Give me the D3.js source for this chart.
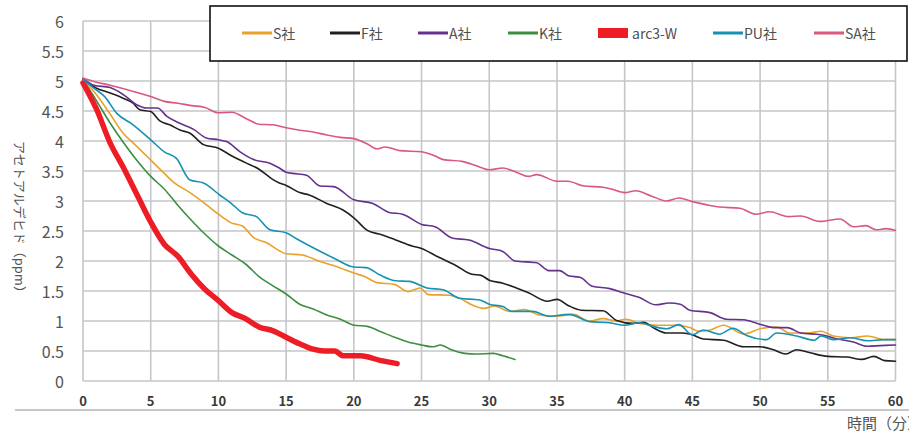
<!DOCTYPE html>
<html lang="ja">
<head>
<meta charset="UTF-8">
<title>アセトアルデヒド濃度の推移</title>
<script src="https://d3js.org/d3.v7.min.js"></script>
<style>
    body { margin: 0; background: #fff; }
    svg { display: block; font-family: "Noto Sans CJK JP", "Noto Sans", sans-serif; }
    .grid line { stroke: #c6c6ca; stroke-width: 1.6; }
    .tick-y { fill: #555; font-size: 16px; }
    .tick-x { fill: #3a3a3a; font-size: 13px; font-weight: 600; }
    .legend-text { fill: #505050; font-size: 14px; }
    .series { fill: none; stroke-linejoin: round; stroke-linecap: round; }
</style>
</head>
<body>
<svg id="chart" width="909" height="434"></svg>
<script>
// series names, legend order
const seriesNames = ['S社', 'F社', 'A社', 'K社', 'arc3-W', 'PU社', 'SA社'];
const seriesColors = ['#eaa12a', '#231f20', '#64318c', '#3a8f40', '#ee1c25', '#1591b3', '#d9597d'];

// [minutes, ppm]
const sData = [[0,5.03],[1,4.77],[2,4.45],[3,4.12],[3.7,3.97],[4.7,3.75],[6,3.46],[6.7,3.31],[7.9,3.14],[9.1,2.94],[10,2.78],[10.9,2.64],[11.8,2.58],[12.6,2.39],[13.6,2.3],[14.5,2.17],[15,2.12],[16.2,2.1],[17.5,1.99],[18.7,1.91],[20,1.8],[20.8,1.74],[21.7,1.64],[23,1.61],[24,1.49],[24.9,1.55],[25.5,1.44],[27,1.43],[27.9,1.37],[28.7,1.27],[29.6,1.21],[30.4,1.25],[31.5,1.16],[32.6,1.19],[33.7,1.1],[35,1.08],[36.2,1.11],[37.4,1.0],[38.4,1.04],[39.4,1.0],[40.1,1.03],[41.1,0.96],[42.4,0.93],[43.8,0.93],[44.8,0.89],[45.5,0.83],[46.3,0.85],[47.3,0.93],[48.8,0.78],[50,0.87],[51.2,0.9],[52.2,0.8],[53.5,0.8],[54.5,0.83],[55.4,0.75],[56.7,0.72],[57.9,0.75],[59.2,0.69],[60,0.69]];
const fData = [[0,5.03],[1,4.88],[2,4.8],[3,4.71],[3.7,4.63],[4.2,4.52],[5,4.49],[5.7,4.33],[6.4,4.27],[7.2,4.18],[7.9,4.13],[8.9,3.94],[10,3.88],[11,3.75],[12,3.64],[13,3.53],[14,3.36],[14.5,3.3],[15,3.26],[16,3.14],[16.7,3.1],[18,2.96],[19.2,2.85],[20,2.72],[21,2.51],[22,2.44],[23,2.36],[24.3,2.25],[25,2.21],[26.2,2.07],[27.5,1.93],[28.7,1.78],[29.4,1.76],[30,1.68],[31,1.63],[32,1.55],[32.9,1.47],[34.3,1.33],[35,1.36],[35.9,1.25],[36.8,1.18],[38.4,1.17],[39.4,1.01],[40.6,0.96],[41.4,0.98],[42.1,0.89],[43.1,0.8],[44.3,0.8],[45,0.77],[45.8,0.7],[47.3,0.68],[48.8,0.57],[50,0.57],[51,0.52],[51.9,0.45],[52.7,0.52],[53.7,0.47],[55,0.41],[56.4,0.4],[57.5,0.36],[58.4,0.41],[59.2,0.34],[60,0.33]];
const aData = [[0,5.04],[0.8,4.93],[2,4.89],[3,4.77],[4,4.6],[4.7,4.55],[5.5,4.55],[6.2,4.41],[6.9,4.32],[8.2,4.19],[9.1,4.05],[10,4.02],[10.6,3.99],[11.6,3.82],[12.6,3.69],[13.8,3.63],[14.5,3.55],[15,3.48],[15.5,3.46],[16.5,3.43],[17.5,3.25],[18.5,3.24],[20,3.02],[21.4,2.96],[22.6,2.81],[23.6,2.78],[25,2.61],[26,2.57],[27.3,2.38],[28.5,2.35],[30,2.21],[31,2.16],[31.9,2.0],[33.5,1.97],[34.4,1.84],[35.2,1.84],[35.9,1.75],[36.7,1.73],[37.6,1.58],[38.9,1.54],[39.9,1.47],[41.1,1.39],[42.3,1.27],[43.3,1.3],[44.1,1.28],[44.8,1.18],[46.3,1.14],[47.5,1.03],[48.8,1.02],[49.8,0.96],[51,0.89],[52,0.89],[53,0.8],[54.5,0.77],[55.7,0.7],[56.9,0.65],[57.9,0.58],[58.9,0.59],[60,0.6]];
const kData = [[0,5.02],[1,4.67],[2,4.3],[3,3.97],[4,3.67],[5,3.41],[6,3.2],[7,2.93],[8,2.68],[9,2.45],[10,2.25],[11,2.1],[12,1.95],[13,1.74],[14,1.59],[15,1.45],[16,1.28],[17,1.2],[18,1.1],[19,1.03],[20,0.93],[21,0.91],[22,0.82],[23,0.73],[24,0.65],[25,0.6],[25.8,0.57],[26.4,0.6],[27.2,0.52],[28.2,0.46],[29,0.45],[30.3,0.46],[31,0.42],[31.9,0.36]];
const arcData = [[0,4.97],[1,4.53],[2,3.97],[3,3.55],[4,3.1],[5,2.65],[6,2.28],[7,2.08],[8,1.78],[9,1.53],[10,1.34],[11,1.14],[12,1.04],[13,0.9],[14,0.84],[15,0.73],[16,0.62],[17,0.53],[17.8,0.5],[18.6,0.5],[19.2,0.42],[20.5,0.42],[22,0.34],[23.2,0.29]];
const puData = [[0,5.03],[0.8,4.88],[1.6,4.74],[2.5,4.46],[3.7,4.27],[5,4.02],[6,3.82],[6.9,3.71],[7.9,3.35],[8.9,3.3],[10.1,3.1],[10.9,2.97],[11.8,2.8],[12.8,2.74],[13.8,2.52],[15,2.47],[15.7,2.38],[17,2.22],[18.5,2.05],[20,1.9],[20.9,1.89],[21.9,1.77],[23.1,1.67],[24.1,1.66],[25.4,1.55],[26.6,1.52],[27.8,1.38],[29.3,1.35],[30,1.28],[31,1.24],[31.7,1.16],[33.2,1.16],[34.4,1.08],[35.9,1.11],[37.4,0.99],[38.9,0.97],[40,0.93],[41.1,0.97],[42.1,0.91],[43.1,0.87],[44,0.94],[45,0.77],[45.8,0.85],[47,0.78],[48,0.88],[49,0.76],[50.5,0.69],[51.2,0.8],[52.7,0.75],[54,0.68],[54.5,0.75],[55.4,0.69],[56.7,0.72],[57.9,0.67],[59.2,0.69],[60,0.69]];
const saData = [[0,5.05],[1,4.98],[2,4.93],[3,4.87],[4,4.81],[5,4.74],[6,4.66],[7,4.63],[8,4.59],[9,4.56],[10,4.47],[11,4.48],[12,4.38],[13,4.28],[14,4.27],[15,4.22],[16,4.18],[17,4.15],[18,4.1],[19,4.06],[20,4.04],[21,3.95],[21.7,3.87],[22.3,3.9],[23.4,3.84],[25,3.82],[26,3.75],[26.6,3.69],[28,3.66],[29,3.59],[30,3.52],[31,3.55],[32,3.48],[32.9,3.41],[33.5,3.44],[35,3.33],[35.8,3.33],[37,3.25],[38.4,3.23],[39,3.2],[40,3.14],[40.8,3.17],[42,3.08],[43.1,3.0],[44,3.05],[45,2.99],[46,2.94],[47,2.9],[48.5,2.88],[49.7,2.78],[50.7,2.82],[52.1,2.74],[53,2.75],[54.4,2.66],[55.9,2.7],[56.9,2.57],[57.8,2.59],[58.6,2.52],[59.3,2.54],[60,2.51]];

const xTicks = [0, 5, 10, 15, 20, 25, 30, 35, 40, 45, 50, 55, 60];
const yTicks = [0, 0.5, 1, 1.5, 2, 2.5, 3, 3.5, 4, 4.5, 5, 5.5, 6];
const yLabel = 'アセトアルデヒド（ppm）';
const xLabel = '時間（分）';

const allData = [sData, fData, aData, kData, arcData, puData, saData];

const svg = d3.select('#chart');
const plotLeft = 83, plotRight = 895.5, plotTop = 21, plotBottom = 381;

const x = d3.scaleLinear().domain([0, 60]).range([plotLeft, plotRight]);
const y = d3.scaleLinear().domain([0, 6]).range([plotBottom, plotTop]);

// grid
const grid = svg.append('g').attr('class', 'grid');
grid.selectAll('.h').data(yTicks).join('line')
    .attr('class', 'h')
    .attr('x1', plotLeft).attr('x2', plotRight)
    .attr('y1', d => y(d)).attr('y2', d => y(d));
grid.selectAll('.v').data(xTicks).join('line')
    .attr('class', 'v')
    .attr('x1', d => x(d)).attr('x2', d => x(d))
    .attr('y1', plotTop).attr('y2', plotBottom);

// tick labels
svg.selectAll('.tick-y').data(yTicks).join('text')
    .attr('class', 'tick-y')
    .attr('x', 64).attr('y', d => y(d))
    .attr('text-anchor', 'end').attr('dominant-baseline', 'central')
    .text(d => d);
svg.selectAll('.tick-x').data(xTicks).join('text')
    .attr('class', 'tick-x')
    .attr('x', d => x(d)).attr('y', 400)
    .attr('text-anchor', 'middle').attr('dominant-baseline', 'central')
    .text(d => d);

// line under the axis labels
svg.append('line')
    .attr('x1', 15).attr('x2', 909).attr('y1', 410).attr('y2', 410)
    .attr('stroke', '#b4b4b4').attr('stroke-width', 1.5);

svg.append('text')
    .attr('x', 847).attr('y', 422)
    .attr('dominant-baseline', 'central')
    .attr('fill', '#555').attr('font-size', 15)
    .text(xLabel);

svg.append('text')
    .attr('transform', 'translate(20,220) rotate(90)')
    .attr('text-anchor', 'middle').attr('dominant-baseline', 'central')
    .attr('fill', '#555').attr('font-size', 13)
    .text(yLabel);

// lines
const line = d3.line()
    .x(d => x(d[0])).y(d => y(d[1]))
    .curve(d3.curveMonotoneX);

allData.forEach((data, i) => {
    svg.append('path')
        .datum(data)
        .attr('class', 'series')
        .attr('stroke', seriesColors[i])
        .attr('stroke-width', seriesNames[i] === 'arc3-W' ? 5.5 : 1.6)
        .attr('d', line);
});

// legend
svg.append('rect')
    .attr('x', 210).attr('y', 6).attr('width', 697).attr('height', 55)
    .attr('fill', '#fff').attr('stroke', '#111').attr('stroke-width', 1.6);

const legendX = [242, 330, 418, 508, 598, 713, 814];
seriesNames.forEach((name, i) => {
    const g = svg.append('g').attr('transform', `translate(${legendX[i]},33)`);
    if (name === 'arc3-W') {
        g.append('rect').attr('x', 0).attr('y', -5).attr('width', 30).attr('height', 10)
            .attr('fill', seriesColors[i]);
    } else {
        g.append('line').attr('x1', 0).attr('x2', 30).attr('y1', 0).attr('y2', 0)
            .attr('stroke', seriesColors[i]).attr('stroke-width', 3);
    }
    g.append('text')
        .attr('class', 'legend-text')
        .attr('x', name === 'arc3-W' ? 34 : 31).attr('y', 0)
        .attr('dominant-baseline', 'central')
        .text(name);
});
</script>
</body>
</html>
